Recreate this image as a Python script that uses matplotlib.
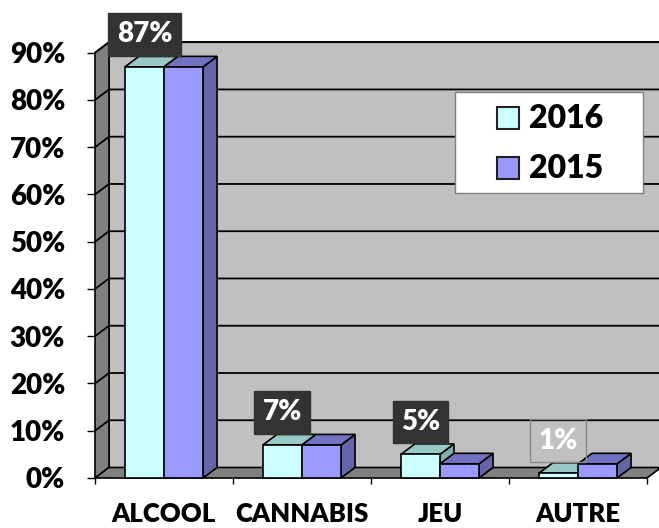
import matplotlib
matplotlib.use("Agg")
import matplotlib.pyplot as plt
from matplotlib.patches import Polygon, Rectangle
from matplotlib.transforms import Affine2D

plt.rcParams['font.family'] = ['Lato', 'DejaVu Sans']
plt.rcParams['font.weight'] = 'heavy'
WEIGHT = 'heavy'

categories = ["ALCOOL", "CANNABIS", "JEU", "AUTRE"]
series_names = ["2016", "2015"]
values_2016 = [87, 7, 5, 1]
values_2015 = [87, 7, 3, 3]
label_values = [87, 7, 5, 1]
y_ticks = [0, 10, 20, 30, 40, 50, 60, 70, 80, 90]

face_colors = ["#CCFFFF", "#9999FF"]
top_colors = ["#99C9C6", "#7272C2"]
side_colors = ["#7FB0AE", "#6464A6"]

W, H = 659, 528
fig = plt.figure(figsize=(W / 100, H / 100), dpi=100)
fig.patch.set_facecolor("white")

# front plane of the plot area, in figure pixels
left_px, right_px, base_px, top_px = 95, 647, 478, 52.7
ax = fig.add_axes([left_px / W, (H - base_px) / H,
                   (right_px - left_px) / W, (base_px - top_px) / H])
n = len(categories)
ax.set_xlim(0, n)
ax.set_ylim(0, 90)
for s in ax.spines.values():
    s.set_visible(False)
ax.patch.set_visible(False)

px_per_x = (right_px - left_px) / n
px_per_y = (base_px - top_px) / 90
DX = 14 / px_per_x
DY = 10.5 / px_per_y

# walls and floor
back = Polygon([(DX, DY), (n + DX, DY), (n + DX, 90 + DY), (DX, 90 + DY)],
               closed=True, facecolor="#C0C0C0", edgecolor="black", lw=1.2,
               clip_on=False, zorder=1)
ax.add_patch(back)
side_wall = Polygon([(0, 0), (DX, DY), (DX, 90 + DY), (0, 90)], closed=True,
                    facecolor="#808080", edgecolor="black", lw=1.2,
                    clip_on=False, zorder=2)
ax.add_patch(side_wall)
floor = Polygon([(0, 0), (n, 0), (n + DX, DY), (DX, DY)], closed=True,
                facecolor="#808080", edgecolor="black", lw=1.2,
                clip_on=False, zorder=2)
ax.add_patch(floor)

for v in y_ticks[1:]:
    ax.plot([0, DX, n + DX], [v, v + DY, v + DY], color="black", lw=1.3,
            clip_on=False, zorder=3, solid_capstyle="butt")

# 3D columns
gap = 0.217
bw = (1 - 2 * gap) / 2
z = 5
for i in range(n):
    for j, vals in enumerate([values_2016, values_2015]):
        v = vals[i]
        x0 = i + gap + j * bw
        side = Polygon([(x0 + bw, 0), (x0 + bw + DX, DY), (x0 + bw + DX, v + DY), (x0 + bw, v)],
                       closed=True, facecolor=side_colors[j], edgecolor="black", lw=1.2,
                       clip_on=False, zorder=z)
        top = Polygon([(x0, v), (x0 + bw, v), (x0 + bw + DX, v + DY), (x0 + DX, v + DY)],
                      closed=True, facecolor=top_colors[j], edgecolor="black", lw=1.2,
                      clip_on=False, zorder=z)
        front = Rectangle((x0, 0), bw, v, facecolor=face_colors[j], edgecolor="black",
                          lw=1.2, clip_on=False, zorder=z + 0.5)
        ax.add_patch(side)
        ax.add_patch(top)
        ax.add_patch(front)
        z += 1

# value labels above the 2016 columns
for i, v in enumerate(label_values):
    xc = i + gap + bw / 2
    yc = values_2016[i] + DY + 22 / px_per_y
    if v >= 5:
        box = dict(boxstyle="square,pad=0.3", facecolor="#333333", edgecolor="#333333")
    else:
        box = dict(boxstyle="square,pad=0.3", facecolor="none", edgecolor="#8A8A8A", lw=1)
    ax.text(xc, yc, f"{v}%", ha="center", va="center", color="white",
            fontsize=20, fontweight=WEIGHT, bbox=box, zorder=50, clip_on=False)

# axes ticks and labels
ax.set_yticks(y_ticks)
ax.set_yticklabels([f"{v}%" for v in y_ticks])
ax.tick_params(axis="y", which="major", direction="out", length=6, width=1,
               pad=15.5, labelsize=20, color="black")
ax.set_xticks([i + 0.5 for i in range(n)])
ax.set_xticklabels(categories)
ax.set_xticks(list(range(n + 1)), minor=True)
ax.tick_params(axis="x", which="major", length=0, pad=31.5, labelsize=18.5)
ax.tick_params(axis="x", which="minor", direction="out", length=4.5, width=1, color="black")
for lbl in ax.get_xticklabels():
    lbl.set_fontweight(WEIGHT)
    lbl.set_verticalalignment("baseline")
for lbl in ax.get_yticklabels():
    lbl.set_fontweight(WEIGHT)

# legend
pix = Affine2D().scale(1 / W, -1 / H).translate(0, 1) + fig.transFigure
fig.add_artist(Rectangle((455, 92), 188, 101, transform=pix, facecolor="white",
                         edgecolor="#808080", lw=1, zorder=10))
for k, (name, col) in enumerate(zip(series_names, face_colors)):
    y0 = 107 + 50 * k
    fig.add_artist(Rectangle((497, y0), 22, 22, transform=pix, facecolor=col,
                             edgecolor="#222222", lw=1.5, zorder=11))
    fig.text(529, y0 + 21, name, transform=pix, ha="left", va="baseline",
             fontsize=23, fontweight=WEIGHT, color="black", zorder=12)

fig.savefig("out.png", dpi=100, facecolor="white")
